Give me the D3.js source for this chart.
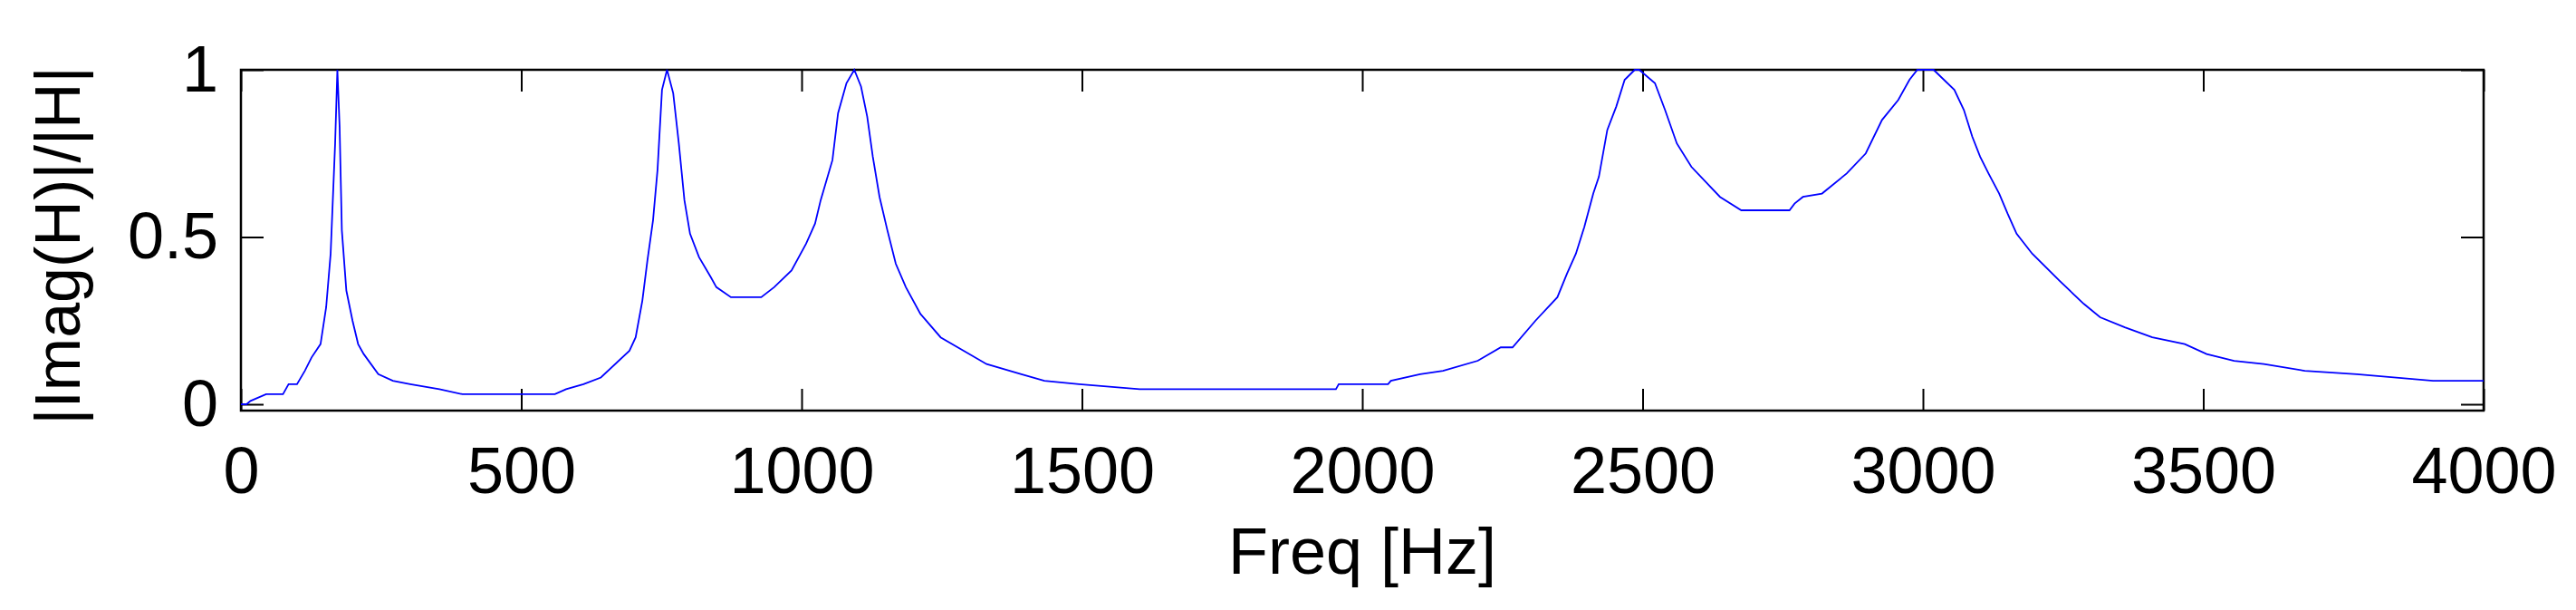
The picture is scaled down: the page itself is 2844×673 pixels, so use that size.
<!DOCTYPE html>
<html>
<head>
<meta charset="utf-8">
<script src="https://cdn.jsdelivr.net/npm/d3@7"></script>
<style>
  body { margin: 0; background: #fff; }
  text { font-family: "Liberation Sans", Arial, sans-serif; fill: #000; }
</style>
</head>
<body>
<svg id="chart" width="2844" height="673"></svg>
<script>
// frequency (Hz) and normalised |Imag(H)|/|H|
const freq = [0, 10, 17, 45, 75, 85, 100, 114, 126, 142, 152, 160, 168, 172, 176, 180, 188, 199, 209, 219, 245, 271, 302, 354, 395,
    560, 580, 611, 642, 693, 704, 716, 725, 735, 743, 751, 760, 771, 781, 791, 801, 817, 838, 848, 874,
    928, 951, 982, 1008, 1024, 1034, 1055, 1065, 1080, 1094, 1106, 1117, 1127, 1139, 1153, 1168, 1186,
    1212, 1248, 1289, 1330, 1392, 1433, 1495, 1603, 1953, 1958, 2046, 2051, 2103, 2144, 2206, 2247, 2268,
    2309, 2348, 2365, 2381, 2396, 2412, 2422, 2437, 2453, 2468, 2486, 2494, 2522, 2540, 2561, 2587, 2638,
    2676, 2762, 2771, 2786, 2820, 2864, 2898, 2927, 2956, 2976, 2990, 3019, 3056, 3073, 3088, 3102, 3117,
    3136, 3151, 3167, 3195, 3243, 3287, 3316, 3360, 3409, 3467, 3506, 3555, 3608, 3681, 3774, 3910, 4000];
const mag = [0.0, 0.0, 0.01, 0.03, 0.03, 0.06, 0.06, 0.10, 0.14, 0.18, 0.29, 0.45, 0.78, 1.0, 0.83, 0.52, 0.34, 0.25, 0.18, 0.15, 0.09, 0.07, 0.06, 0.045, 0.03,
    0.03, 0.045, 0.06, 0.08, 0.16, 0.20, 0.31, 0.43, 0.55, 0.70, 0.94, 1.0, 0.93, 0.78, 0.61, 0.51, 0.44, 0.38, 0.35, 0.32,
    0.32, 0.35, 0.40, 0.48, 0.54, 0.61, 0.73, 0.87, 0.96, 1.0, 0.95, 0.86, 0.74, 0.62, 0.52, 0.42, 0.35,
    0.27, 0.20, 0.16, 0.12, 0.09, 0.07, 0.06, 0.045, 0.045, 0.06, 0.06, 0.07, 0.09, 0.10, 0.13, 0.17, 0.17,
    0.25, 0.32, 0.39, 0.45, 0.53, 0.63, 0.68, 0.82, 0.89, 0.97, 1.0, 1.0, 0.96, 0.88, 0.78, 0.71, 0.62,
    0.58, 0.58, 0.60, 0.62, 0.63, 0.69, 0.75, 0.85, 0.91, 0.97, 1.0, 1.0, 0.94, 0.88, 0.80, 0.74, 0.69,
    0.63, 0.57, 0.51, 0.45, 0.37, 0.30, 0.26, 0.23, 0.20, 0.18, 0.15, 0.13, 0.12, 0.10, 0.09, 0.07, 0.07];
const xTicks = [0, 500, 1000, 1500, 2000, 2500, 3000, 3500, 4000];
const yTicks = [0, 0.5, 1];

const svg = d3.select('#chart');
const pL = 266, pR = 2742, pT = 77, pB = 453;

const x = d3.scaleLinear().domain([0, 4000]).range([pL, pR]);
const y = d3.scaleLinear().domain([0, 1]).range([446, pT]);

// inward ticks on all four sides
svg.append('g').attr('transform', `translate(0,${pB})`)
    .call(d3.axisBottom(x).tickValues(xTicks).tickSizeInner(-24).tickSizeOuter(0).tickPadding(40).tickFormat(d3.format('d')))
    .call(g => g.select('.domain').remove())
    .call(g => g.selectAll('line').attr('stroke-width', 2))
    .call(g => g.selectAll('text').attr('font-size', 72).attr('font-family', '"Liberation Sans", Arial, sans-serif'));
svg.append('g').attr('transform', `translate(0,${pT})`)
    .call(d3.axisTop(x).tickValues(xTicks).tickSizeInner(-24).tickSizeOuter(0).tickFormat(''))
    .call(g => g.select('.domain').remove())
    .call(g => g.selectAll('line').attr('stroke-width', 2));
svg.append('g').attr('transform', `translate(${pL},0)`)
    .call(d3.axisLeft(y).tickValues(yTicks).tickSizeInner(-25).tickSizeOuter(0).tickPadding(25).tickFormat(d3.format('')))
    .call(g => g.select('.domain').remove())
    .call(g => g.selectAll('line').attr('stroke-width', 2))
    .call(g => g.selectAll('text').attr('font-size', 72).attr('font-family', '"Liberation Sans", Arial, sans-serif'));
svg.append('g').attr('transform', `translate(${pR},0)`)
    .call(d3.axisRight(y).tickValues(yTicks).tickSizeInner(-25).tickSizeOuter(0).tickFormat(''))
    .call(g => g.select('.domain').remove())
    .call(g => g.selectAll('line').attr('stroke-width', 2));

svg.append('rect')
    .attr('x', pL).attr('y', pT)
    .attr('width', pR - pL).attr('height', pB - pT)
    .attr('fill', 'none').attr('stroke', '#000').attr('stroke-width', 2.5);

const line = d3.line().x((d, i) => x(freq[i])).y(d => y(d));
svg.append('path')
    .datum(mag)
    .attr('d', line)
    .attr('fill', 'none')
    .attr('stroke', '#0000ff')
    .attr('stroke-width', 1.8);

svg.append('text')
    .attr('x', (pL + pR) / 2).attr('y', 633)
    .attr('text-anchor', 'middle')
    .attr('font-size', 72)
    .text('Freq [Hz]');

svg.append('text')
    .attr('transform', 'translate(88,271) rotate(-90)')
    .attr('text-anchor', 'middle')
    .attr('font-size', 70)
    .text('|Imag(H)|/|H|');
</script>
</body>
</html>
